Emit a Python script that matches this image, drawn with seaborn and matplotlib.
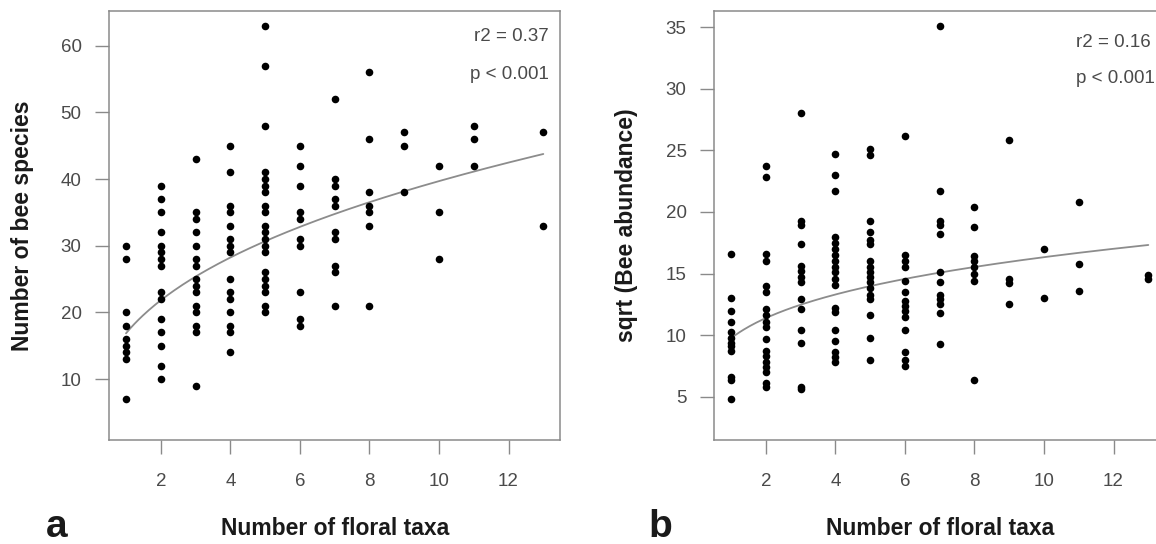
import numpy as np
import pandas as pd
import matplotlib
matplotlib.use("Agg")
import matplotlib.pyplot as plt
import seaborn as sns

# ---------------- data ----------------
taxa_ticks = [2, 4, 6, 8, 10, 12]

# panel a: number of bee species per number of floral taxa
species_by_taxa = {
    1: [30, 28, 20, 18, 16, 15, 14, 13, 7],
    2: [39, 37, 35, 32, 30, 29, 28, 27, 23, 22, 19, 17, 15, 12, 10],
    3: [43, 35, 34, 32, 30, 28, 27, 25, 24, 23, 21, 20, 18, 17, 9],
    4: [45, 41, 36, 35, 33, 31, 30, 29, 25, 23, 22, 20, 18, 17, 14],
    5: [63, 57, 48, 41, 40, 39, 38, 36, 35, 33, 32, 31, 30, 29, 26, 25, 24, 23, 21, 20],
    6: [45, 42, 39, 35, 34, 31, 30, 23, 19, 18],
    7: [52, 40, 39, 37, 36, 32, 31, 27, 26, 21],
    8: [56, 46, 38, 36, 35, 33, 21],
    9: [47, 45, 38],
    10: [42, 35, 28],
    11: [48, 46, 42],
    13: [47, 33],
}
species_ticks = [10, 20, 30, 40, 50, 60]
species_fit = (16.85, 0.372)          # fitted curve y = a * x^b
species_stats = ["r2 = 0.37", "p < 0.001"]

# panel b: sqrt(bee abundance) per number of floral taxa
abund_by_taxa = {
    1: [16.6, 13.0, 12.0, 11.1, 10.3, 9.8, 9.4, 9.1, 8.7, 6.6, 6.4, 4.8],
    2: [23.7, 22.8, 16.6, 16.0, 14.0, 13.5, 12.1, 11.6, 11.1, 10.7, 9.7, 8.7, 8.3, 7.8, 7.4, 7.0, 6.1, 5.8],
    3: [28.0, 19.3, 18.9, 17.4, 15.6, 15.2, 14.7, 14.3, 12.9, 12.1, 10.4, 9.4, 5.8, 5.6],
    4: [24.7, 23.0, 21.7, 18.0, 17.5, 17.0, 16.5, 16.0, 15.5, 15.1, 14.6, 14.1, 12.2, 11.9, 10.4, 9.5, 8.6, 8.2, 7.8],
    5: [25.1, 24.6, 19.3, 18.4, 17.7, 17.4, 16.0, 15.5, 15.1, 14.7, 14.3, 13.8, 13.3, 12.9, 11.6, 9.8, 8.0],
    6: [26.2, 16.5, 16.0, 15.5, 14.4, 13.5, 12.8, 12.4, 12.0, 11.5, 10.4, 8.6, 8.0, 7.5],
    7: [35.1, 21.7, 19.3, 18.9, 18.2, 15.1, 14.3, 13.3, 12.9, 12.5, 11.8, 9.3],
    8: [20.4, 18.8, 16.4, 16.0, 15.5, 15.0, 14.4, 6.4],
    9: [25.8, 14.6, 14.2, 12.5],
    10: [17.0, 13.0],
    11: [20.8, 15.8, 13.6],
    13: [14.9, 14.6],
}
abund_ticks = [5, 10, 15, 20, 25, 30, 35]
abund_fit = (9.75, 0.224)
abund_stats = ["r2 = 0.16", "p < 0.001"]

xlabel = "Number of floral taxa"
ylabel_a = "Number of bee species"
ylabel_b = "sqrt (Bee abundance)"

# ---------------- styling ----------------
sns.set_theme(style="white")
plt.rcParams["font.family"] = ["Liberation Sans", "DejaVu Sans"]

W, H = 1156, 544
fig = plt.figure(figsize=(W / 100, H / 100), dpi=100)
axA = fig.add_axes([109.3 / W, 1 - 440 / H, 450.7 / W, 429 / H])
axB = fig.add_axes([714.3 / W, 1 - 440 / H, 450.7 / W, 429 / H])

SPINE = "#8a8a8a"
TICKTXT = "#4a4a4a"


def panel(ax, data, fit, ylim, yticks, ylabel, stats, stat_pos, ylab_x):
    df = pd.DataFrame([(t, v) for t, vals in data.items() for v in vals],
                      columns=["taxa", "value"])
    xs = np.linspace(df["taxa"].min(), df["taxa"].max(), 200)
    curve = pd.DataFrame({"taxa": xs, "value": fit[0] * xs ** fit[1]})
    sns.lineplot(data=curve, x="taxa", y="value", ax=ax, color="#8c8c8c",
                 linewidth=1.3, zorder=2)
    sns.scatterplot(data=df, x="taxa", y="value", ax=ax, color="black",
                    s=30, linewidth=0, zorder=3)
    ax.set_xlim(0.52, 13.48)
    ax.set_ylim(*ylim)
    ax.set_xticks(taxa_ticks)
    ax.set_yticks(yticks)
    for s in ax.spines.values():
        s.set_visible(True)
        s.set_color(SPINE)
        s.set_linewidth(1.1)
    ax.tick_params(axis="both", direction="out", length=10, width=1.0,
                   color=SPINE, labelcolor=TICKTXT, labelsize=13.5,
                   bottom=True, left=True, top=False, right=False)
    ax.tick_params(axis="x", pad=14)
    ax.tick_params(axis="y", pad=10)
    ax.set_xlabel(xlabel, fontsize=16.5, fontweight="bold", color="#1a1a1a")
    ax.xaxis.label.set_va("baseline")
    ax.xaxis.set_label_coords(0.5, -0.221)
    ax.set_ylabel(ylabel, fontsize=16.5, fontweight="bold", color="#1a1a1a")
    ax.yaxis.label.set_va("center")
    ax.yaxis.set_label_coords(ylab_x, 0.5)
    for txt, (tx, ty) in zip(stats, stat_pos):
        ax.text(tx, ty, txt, transform=ax.transAxes, ha="right", va="baseline",
                fontsize=13.5, color=TICKTXT)


panel(axA, species_by_taxa, species_fit, (0.85, 65.2), species_ticks, ylabel_a,
      species_stats, [(0.974, 0.931), (0.976, 0.841)], -0.192)
panel(axB, abund_by_taxa, abund_fit, (1.5, 36.3), abund_ticks, ylabel_b,
      abund_stats, [(0.968, 0.917), (0.978, 0.833)], -0.194)

fig.text(57 / W, 1 - 536.7 / H, "a", ha="center", va="baseline",
         fontsize=28, fontweight="bold", color="#1a1a1a")
fig.text(660 / W, 1 - 536.7 / H, "b", ha="center", va="baseline",
         fontsize=28, fontweight="bold", color="#1a1a1a")

fig.savefig("out.png", dpi=100)
